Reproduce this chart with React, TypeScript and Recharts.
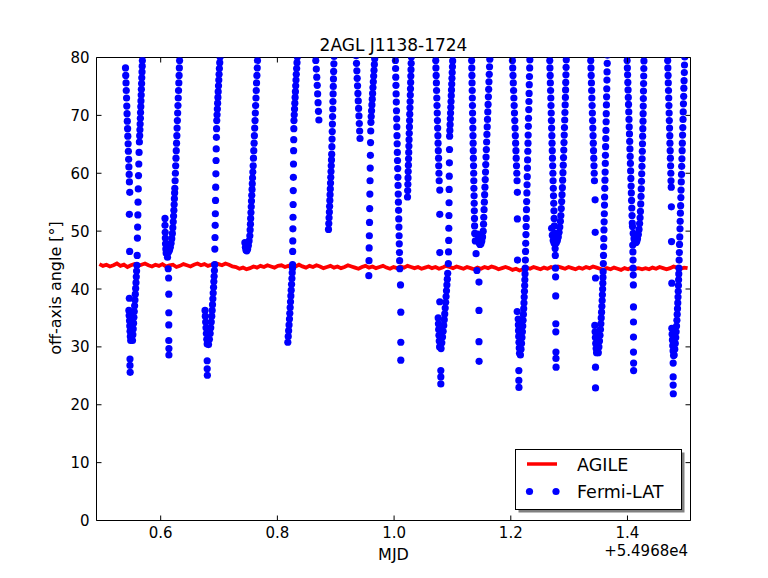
import React from 'react'
import { ComposedChart, Line, Scatter, XAxis, YAxis, ReferenceLine } from 'recharts'

type Pt = [number, number]

const X_DOMAIN: [number, number] = [0.49, 1.508]
const Y_DOMAIN: [number, number] = [0, 80]
const X_TICKS = [0.6, 0.8, 1.0, 1.2, 1.4]
const Y_TICKS = [0, 10, 20, 30, 40, 50, 60, 70, 80]

// AGILE off-axis angle, sampled on a regular time grid
const AGILE_START = 0.495
const AGILE_STEP = 0.006
const AGILE_ANGLE = [
  44.3, 44.0, 44.2, 43.9, 44.1, 44.4, 44.0, 44.2, 43.8, 44.1, 44.3, 44.0, 44.2,
  44.4, 44.1, 43.9, 44.2, 44.0, 44.3, 43.9, 44.1, 44.2, 43.8, 44.0, 44.3, 44.1,
  43.9, 44.2, 44.4, 44.1, 44.3, 44.0, 44.2, 44.5, 44.3, 44.1, 44.4, 44.2, 43.9,
  43.8, 43.5, 43.7, 43.4, 43.6, 43.9, 43.7, 44.0, 43.8, 44.1, 43.9, 43.7, 44.0,
  44.1, 43.8, 44.0, 43.7, 43.9, 44.2, 43.9, 43.7, 44.0, 43.8, 44.1, 43.9, 43.6,
  43.8, 44.0, 43.7, 43.9, 43.6, 43.8, 44.1, 43.9, 43.7, 43.5, 43.8, 44.0, 43.7,
  43.9, 43.6, 43.8, 44.0, 43.7, 43.5, 43.8, 43.6, 43.9, 43.7, 44.0, 43.8, 43.6,
  43.8, 43.5, 43.7, 43.9, 43.6, 43.8, 43.5, 43.7, 44.0, 43.8, 43.6, 43.9, 43.7,
  43.5, 43.8, 43.6, 43.4, 43.7, 43.5, 43.8, 43.6, 43.9, 43.7, 43.4, 43.6, 43.8,
  43.6, 43.3, 43.5, 43.2, 43.4, 43.7, 43.5, 43.8, 43.6, 43.4, 43.7, 43.5, 43.8,
  43.6, 43.9, 43.7, 43.5, 43.8, 43.6, 43.4, 43.7, 43.5, 43.8, 43.6, 43.9, 43.7,
  43.5, 43.3, 43.6, 43.4, 43.7, 43.5, 43.3, 43.6, 43.4, 43.7, 43.5, 43.6, 43.4,
  43.6, 43.4, 43.7, 43.5, 43.8, 43.6, 43.4, 43.6, 43.9, 43.7, 43.5, 43.7, 43.6,
]

// Fermi-LAT off-axis angle, one array per orbit [MJD - 54968, deg]
const ORBIT_01: Pt[] = [
  [0.4935, 80.7],
  [0.5397, 78.2], [0.5401, 76.9], [0.5406, 75.6], [0.541, 74.3], [0.5415, 73.0], [0.5419, 71.6], [0.5424, 70.3], [0.5428, 69.0],
  [0.5433, 67.7], [0.5437, 66.4], [0.5442, 65.1], [0.5446, 63.8], [0.5451, 62.4], [0.5455, 61.1], [0.546, 59.8], [0.5464, 58.5],
  [0.547, 56.7], [0.5463, 52.9], [0.5468, 46.5], [0.5463, 38.4],
  [0.5455, 36.3], [0.546, 35.4], [0.5466, 34.5], [0.547, 33.6], [0.5475, 32.7], [0.548, 31.8], [0.5486, 31.1],
  [0.5474, 27.9], [0.5474, 26.8], [0.5477, 25.6],
  [0.5517, 31.1], [0.5523, 32.1], [0.5529, 33.1], [0.5535, 34.1], [0.5541, 35.1], [0.5547, 36.1], [0.5553, 37.1], [0.5559, 38.1],
  [0.5565, 39.1], [0.5571, 40.1], [0.5577, 41.1], [0.5582, 42.1], [0.5587, 43.1], [0.5592, 44.1],
  [0.5597, 45.8], [0.5601, 48.8], [0.5605, 50.7], [0.5609, 52.8], [0.5612, 55.0], [0.5616, 57.3], [0.562, 59.6], [0.5625, 61.6],
  [0.563, 63.6], [0.5635, 65.4],
  [0.564, 66.5], [0.5644, 67.5], [0.5648, 68.5], [0.5652, 69.5], [0.5655, 70.5], [0.5659, 71.5], [0.5662, 72.5], [0.5666, 73.5],
  [0.5669, 74.5], [0.5673, 75.5], [0.5676, 76.5], [0.568, 77.5], [0.5683, 78.5], [0.5686, 79.5], [0.5689, 80.5],
]

const ORBIT_02: Pt[] = [
  [0.6074, 52.2], [0.6074, 51.0], [0.6077, 49.8], [0.608, 48.8], [0.6083, 47.8], [0.6088, 46.9], [0.6094, 46.2],
  [0.6117, 45.5], [0.6129, 43.5], [0.6136, 41.9], [0.6139, 39.1], [0.6139, 35.9], [0.6139, 33.8], [0.6139, 31.1], [0.6141, 29.7], [0.6141, 28.6],
  [0.6134, 46.4], [0.615, 46.7], [0.6165, 47.2], [0.6178, 47.9], [0.619, 48.7], [0.62, 49.6], [0.6208, 50.6], [0.6215, 51.6],
  [0.6221, 52.6], [0.6226, 53.6], [0.6231, 54.6], [0.6235, 55.6], [0.6239, 56.6], [0.6242, 57.4],
  [0.6247, 58.7], [0.6252, 60.0], [0.6257, 61.3], [0.6262, 62.6], [0.6267, 63.9], [0.6272, 65.2], [0.6277, 66.5], [0.6281, 67.8],
  [0.6286, 69.1], [0.6291, 70.4], [0.6296, 71.7], [0.6301, 73.0], [0.6306, 74.3], [0.6311, 75.6], [0.6316, 76.9], [0.632, 78.2],
  [0.6324, 79.5], [0.6328, 80.8],
]

const ORBIT_03: Pt[] = [
  [0.676, 36.3], [0.6765, 35.3], [0.6771, 34.3], [0.6777, 33.3], [0.6783, 32.3], [0.679, 31.3], [0.6797, 30.5],
  [0.6797, 27.6], [0.6797, 26.2], [0.68, 25.1],
  [0.682, 30.4], [0.6835, 31.3], [0.6848, 32.3], [0.6858, 33.3], [0.6867, 34.3], [0.6875, 35.3], [0.6882, 36.3], [0.6888, 37.3],
  [0.6894, 38.3], [0.69, 39.3], [0.6906, 40.3], [0.6911, 41.3], [0.6916, 42.2], [0.6921, 43.2],
  [0.6925, 44.2], [0.6928, 46.9], [0.6931, 48.9], [0.6934, 51.0], [0.6937, 53.0], [0.694, 55.3], [0.6943, 57.6], [0.6946, 59.9],
  [0.6949, 62.2], [0.6952, 64.2], [0.6955, 66.2], [0.6958, 67.7], [0.6961, 69.1],
  [0.6966, 70.1], [0.6971, 71.1], [0.6976, 72.1], [0.6981, 73.1], [0.6986, 74.1], [0.6991, 75.1], [0.6996, 76.1], [0.7001, 77.1],
  [0.7006, 78.1], [0.7012, 79.1], [0.7018, 80.1], [0.7024, 81.0],
]

const ORBIT_04: Pt[] = [
  [0.7443, 48.0], [0.7452, 47.2], [0.7463, 46.7], [0.7476, 46.6], [0.749, 46.9], [0.7503, 47.5], [0.7515, 48.3], [0.7528, 49.2],
  [0.7533, 50.2], [0.7538, 51.2], [0.7542, 52.2], [0.7547, 53.2], [0.7552, 54.2], [0.7556, 55.2], [0.7561, 56.2], [0.7566, 57.2],
  [0.757, 58.2], [0.7575, 59.2], [0.758, 60.2], [0.7585, 61.3],
  [0.759, 62.6], [0.7595, 63.9], [0.7601, 65.2], [0.7606, 66.5], [0.7611, 67.8], [0.7617, 69.1], [0.7622, 70.4], [0.7627, 71.7],
  [0.7633, 73.0], [0.7638, 74.3], [0.7643, 75.6], [0.7649, 76.9], [0.7654, 78.2], [0.7659, 79.5], [0.7664, 80.8],
]

const ORBIT_05: Pt[] = [
  [0.8179, 30.8], [0.8186, 31.8], [0.8193, 32.8], [0.82, 33.8], [0.8207, 34.8], [0.8213, 35.8], [0.8219, 36.8], [0.8225, 37.8],
  [0.8231, 38.8], [0.8237, 39.8], [0.8243, 40.8], [0.8249, 41.8], [0.8254, 42.8], [0.8259, 43.6],
  [0.826, 44.2], [0.8262, 46.5], [0.8264, 48.3], [0.8266, 50.4], [0.8268, 52.4], [0.827, 54.6], [0.8272, 57.0], [0.8274, 59.3],
  [0.8276, 61.6], [0.8278, 63.9], [0.828, 65.8], [0.8282, 67.7], [0.8284, 69.1],
  [0.8289, 70.1], [0.8294, 71.1], [0.8299, 72.1], [0.8304, 73.1], [0.8309, 74.1], [0.8314, 75.1], [0.8319, 76.1], [0.8324, 77.1],
  [0.833, 78.1], [0.8336, 79.1], [0.8342, 80.1], [0.8348, 81.0],
]

const ORBIT_06: Pt[] = [
  [0.8655, 80.9], [0.8658, 79.5], [0.8667, 78.0], [0.8675, 76.6], [0.8683, 75.2], [0.869, 73.7], [0.8697, 72.2], [0.8704, 70.7], [0.8711, 69.2],
  [0.8876, 50.3], [0.8881, 51.3], [0.8886, 52.3], [0.8891, 53.3], [0.8895, 54.3], [0.8899, 55.3], [0.8903, 56.3], [0.8907, 57.3],
  [0.8911, 58.3], [0.8915, 59.3], [0.8919, 60.3], [0.8923, 61.3], [0.8927, 62.3], [0.8931, 63.3],
  [0.8934, 64.6], [0.8937, 65.9], [0.894, 67.2], [0.8943, 68.5], [0.8946, 69.8], [0.8949, 71.1], [0.8952, 72.4], [0.8955, 73.7],
  [0.8958, 75.0], [0.8961, 76.3], [0.8964, 77.6], [0.8968, 78.9], [0.8972, 80.2],
]

const ORBIT_07: Pt[] = [
  [0.935, 80.3], [0.9356, 79.0], [0.9362, 77.7], [0.9368, 76.4], [0.9374, 75.1], [0.938, 73.8], [0.9386, 72.5], [0.9392, 71.2],
  [0.9398, 69.9], [0.9404, 68.6], [0.941, 67.3], [0.9416, 66.0],
  [0.9567, 42.3], [0.957, 44.9], [0.9573, 47.1], [0.9576, 49.2], [0.9579, 51.5], [0.9582, 53.9], [0.9585, 56.4], [0.9588, 58.7],
  [0.9591, 60.9], [0.9594, 63.1], [0.9597, 65.3], [0.96, 67.3], [0.9603, 68.8],
  [0.9608, 69.8], [0.9614, 70.8], [0.962, 71.8], [0.9626, 72.8], [0.9632, 73.8], [0.9638, 74.8], [0.9644, 75.8], [0.965, 76.8],
  [0.9656, 77.8], [0.9662, 78.8], [0.9668, 79.8], [0.9674, 80.8],
]

const ORBIT_08: Pt[] = [
  [1.002, 80.9], [1.0023, 79.5], [1.0026, 78.1], [1.0029, 76.6], [1.0032, 75.2], [1.0035, 73.7], [1.0038, 72.3], [1.0041, 70.8],
  [1.0044, 69.4], [1.0047, 68.0], [1.005, 66.5], [1.0053, 65.1], [1.0056, 63.6], [1.0059, 62.2], [1.0062, 60.8], [1.0065, 59.3],
  [1.0068, 57.9], [1.0071, 56.4], [1.0074, 55.0], [1.0077, 53.6], [1.008, 52.1], [1.0083, 50.7], [1.0086, 49.2], [1.0089, 47.8],
  [1.0092, 46.3], [1.0095, 44.9], [1.0098, 43.5],
  [1.011, 40.7], [1.0115, 36.0], [1.0115, 30.8], [1.0115, 27.7],
  [1.023, 55.9], [1.0233, 57.0], [1.0236, 58.1], [1.0239, 59.2], [1.0242, 60.3], [1.0245, 61.4], [1.0248, 62.5], [1.0251, 63.6],
  [1.0254, 64.7], [1.0257, 65.8], [1.026, 66.9], [1.0263, 68.0], [1.0266, 69.1], [1.0269, 70.2], [1.0272, 71.3], [1.0275, 72.4],
  [1.0278, 73.5], [1.0281, 74.6], [1.0284, 75.7], [1.0287, 76.8], [1.029, 77.9], [1.0293, 79.0], [1.0296, 80.1], [1.0299, 81.2],
]

const ORBIT_09: Pt[] = [
  [1.071, 80.8], [1.0714, 79.5], [1.0717, 78.2], [1.0721, 76.9], [1.0725, 75.6], [1.0728, 74.3], [1.0732, 73.0], [1.0736, 71.7],
  [1.074, 70.4], [1.0743, 69.1], [1.0747, 67.8], [1.0751, 66.5], [1.0754, 65.2], [1.0758, 63.9], [1.0762, 62.6], [1.0765, 61.3],
  [1.0769, 60.0], [1.0773, 58.7],
  [1.0783, 57.1], [1.0783, 52.9], [1.0783, 46.3], [1.0783, 37.8],
  [1.0756, 35.0], [1.076, 34.0], [1.0764, 33.0], [1.0769, 32.0], [1.0774, 31.0], [1.078, 30.0],
  [1.0801, 25.9], [1.0801, 24.8], [1.0801, 23.6],
  [1.0805, 29.7], [1.0818, 30.7], [1.083, 31.7], [1.0841, 32.7], [1.0851, 33.7], [1.086, 34.7], [1.0868, 35.7], [1.0876, 36.7],
  [1.0884, 37.7], [1.0891, 38.7], [1.0898, 39.7], [1.0905, 40.7], [1.0912, 41.7], [1.0919, 42.7],
  [1.093, 44.4], [1.0933, 46.4], [1.0936, 48.4], [1.0938, 50.5], [1.094, 52.7], [1.0942, 54.9], [1.0944, 57.2], [1.0946, 59.5],
  [1.0948, 61.8], [1.095, 64.1], [1.0952, 66.4],
  [1.0956, 67.4], [1.096, 68.4], [1.0964, 69.4], [1.0968, 70.4], [1.0972, 71.4], [1.0976, 72.4], [1.098, 73.4], [1.0984, 74.4],
  [1.0988, 75.4], [1.0992, 76.4], [1.0996, 77.4], [1.1, 78.4], [1.1004, 79.4], [1.1008, 80.4], [1.1012, 81.4],
]

const ORBIT_10: Pt[] = [
  [1.1327, 80.8], [1.1329, 79.5], [1.1332, 78.2], [1.1334, 76.9], [1.1336, 75.6], [1.1339, 74.3], [1.1341, 73.0], [1.1343, 71.7],
  [1.1345, 70.4], [1.1348, 69.1], [1.135, 67.8], [1.1352, 66.5], [1.1355, 65.2], [1.1357, 63.9], [1.1359, 62.6], [1.1362, 61.3],
  [1.1364, 60.0], [1.1366, 58.7], [1.1368, 57.4], [1.1371, 56.1], [1.1373, 54.8], [1.1375, 53.5], [1.1378, 52.2], [1.138, 50.9],
  [1.1382, 49.6], [1.1392, 48.3], [1.1405, 46.1], [1.142, 43.2],
  [1.1455, 41.2], [1.1455, 36.3], [1.1455, 30.9], [1.1457, 27.5],
  [1.143, 49.5], [1.1442, 48.6], [1.1456, 48.0], [1.1472, 47.7], [1.1488, 47.8], [1.1503, 48.3], [1.1516, 49.0], [1.1527, 50.0],
  [1.1533, 51.2], [1.1537, 52.4],
  [1.1542, 53.7], [1.1547, 55.0], [1.1552, 56.3], [1.1557, 57.6], [1.1562, 58.9], [1.1567, 60.2], [1.1571, 61.5], [1.1576, 62.8],
  [1.1581, 64.1], [1.1586, 65.4], [1.1591, 66.7], [1.1596, 68.0], [1.1601, 69.3], [1.1606, 70.6], [1.1611, 71.9], [1.1616, 73.2],
  [1.1621, 74.5], [1.1626, 75.8], [1.1631, 77.1], [1.1636, 78.4], [1.1641, 79.7], [1.1646, 81.0],
]

const ORBIT_11: Pt[] = [
  [1.2023, 80.8], [1.2028, 79.5], [1.2033, 78.2], [1.2038, 76.9], [1.2043, 75.6], [1.2048, 74.3], [1.2053, 73.0], [1.2058, 71.7],
  [1.2063, 70.4], [1.2068, 69.1], [1.2073, 67.8], [1.2078, 66.5], [1.2083, 65.2], [1.2088, 63.9], [1.2093, 62.6], [1.2098, 61.3],
  [1.2103, 60.0], [1.2108, 58.7],
  [1.2113, 56.7], [1.2113, 52.1], [1.2115, 45.0], [1.211, 36.1],
  [1.2127, 34.8], [1.213, 33.8], [1.2133, 32.8], [1.2136, 31.8], [1.214, 30.8], [1.2145, 29.8], [1.215, 28.9],
  [1.2138, 25.9], [1.2138, 24.2], [1.214, 23.0],
  [1.2165, 28.6], [1.2175, 29.6], [1.2184, 30.6], [1.2192, 31.6], [1.2199, 32.6], [1.2205, 33.6], [1.2211, 34.6], [1.2216, 35.6],
  [1.2221, 36.6], [1.2226, 37.6], [1.223, 38.6], [1.2234, 39.6], [1.2238, 40.6], [1.2241, 41.6], [1.2244, 42.6], [1.2247, 43.6],
  [1.225, 45.0], [1.2253, 46.5], [1.2256, 47.9], [1.226, 49.4], [1.2263, 50.8], [1.2266, 52.2], [1.2269, 53.7], [1.2272, 55.1],
  [1.2276, 56.6], [1.2279, 58.0], [1.2282, 59.4], [1.2285, 60.9], [1.2288, 62.3], [1.2292, 63.8], [1.2295, 65.2], [1.2298, 66.6],
  [1.2301, 68.1], [1.2304, 69.5], [1.2308, 71.0], [1.2311, 72.4], [1.2314, 73.8], [1.2317, 75.3], [1.232, 76.7], [1.2324, 78.2],
  [1.2327, 79.6], [1.233, 81.0],
]

const ORBIT_12: Pt[] = [
  [1.2664, 80.8], [1.2668, 79.5], [1.2671, 78.2], [1.2675, 76.9], [1.2678, 75.6], [1.2682, 74.3], [1.2686, 73.0], [1.2689, 71.7],
  [1.2693, 70.4], [1.2696, 69.1], [1.27, 67.8], [1.2704, 66.5], [1.2707, 65.2], [1.2711, 63.9], [1.2714, 62.6], [1.2718, 61.3],
  [1.2722, 60.0], [1.2725, 58.7], [1.2729, 57.4], [1.2732, 56.1], [1.2736, 54.8], [1.274, 53.5], [1.2743, 52.2], [1.2747, 50.9],
  [1.275, 49.6], [1.2754, 48.3],
  [1.276, 47.0], [1.2763, 45.8], [1.2766, 43.6], [1.2768, 42.1], [1.277, 38.8], [1.2772, 34.0], [1.2772, 32.6], [1.2774, 29.1],
  [1.2774, 28.0], [1.2776, 26.5],
  [1.27, 50.5], [1.2712, 49.3], [1.2727, 48.4], [1.2744, 47.9], [1.2762, 47.8], [1.278, 48.0], [1.2798, 48.4], [1.2814, 49.0],
  [1.2828, 49.8], [1.284, 50.7], [1.285, 51.7], [1.2858, 52.7],
  [1.2865, 53.9], [1.2872, 55.1], [1.2878, 56.3], [1.2884, 57.5], [1.2889, 58.8], [1.2894, 60.1], [1.2899, 61.4], [1.2904, 62.7],
  [1.2908, 64.0], [1.2912, 65.3], [1.2916, 66.6], [1.292, 67.9], [1.2924, 69.2], [1.2928, 70.5], [1.2932, 71.8], [1.2936, 73.1],
  [1.2939, 74.4], [1.2942, 75.7], [1.2945, 77.0], [1.2948, 78.3], [1.2951, 79.6], [1.2954, 80.9],
]

const ORBIT_13: Pt[] = [
  [1.3366, 80.8], [1.337, 79.5], [1.3374, 78.2], [1.3378, 76.9], [1.3382, 75.6], [1.3386, 74.3], [1.339, 73.0], [1.3394, 71.7],
  [1.3398, 70.4], [1.3402, 69.1], [1.3406, 67.8], [1.341, 66.5], [1.3414, 65.2], [1.3418, 63.9], [1.3422, 62.6], [1.3426, 61.3],
  [1.343, 60.0], [1.3434, 58.7],
  [1.3445, 55.4], [1.3447, 49.8], [1.3452, 41.9],
  [1.344, 33.7], [1.3445, 32.6], [1.345, 31.6], [1.3456, 30.6], [1.3463, 29.7], [1.347, 29.0],
  [1.3452, 26.5], [1.3452, 22.9],
  [1.35, 29.0], [1.351, 30.0], [1.352, 31.0], [1.3529, 32.0], [1.3537, 33.0], [1.3544, 34.0], [1.355, 35.0], [1.3556, 36.0],
  [1.3561, 37.0], [1.3566, 38.0], [1.357, 39.0], [1.3574, 40.0], [1.3577, 41.0], [1.358, 42.0], [1.3583, 43.0],
  [1.3586, 44.4], [1.3589, 45.8], [1.3592, 47.3], [1.3594, 48.7], [1.3597, 50.2], [1.36, 51.6], [1.3603, 53.0], [1.3606, 54.5],
  [1.3608, 55.9], [1.3611, 57.4], [1.3614, 58.8], [1.3617, 60.2], [1.362, 61.7], [1.3622, 63.1], [1.3625, 64.6], [1.3628, 66.0],
  [1.3631, 67.4], [1.3634, 68.9], [1.3636, 70.3], [1.3639, 71.8], [1.3642, 73.2], [1.3645, 74.6], [1.3648, 76.1], [1.365, 77.5],
  [1.3653, 79.0], [1.3656, 80.4],
]

const ORBIT_14: Pt[] = [
  [1.399, 80.8], [1.3994, 79.5], [1.3998, 78.2], [1.4002, 77.0], [1.4006, 75.7], [1.401, 74.4], [1.4014, 73.1], [1.4018, 71.9],
  [1.4022, 70.6], [1.4026, 69.3], [1.403, 68.0], [1.4034, 66.8], [1.4038, 65.5], [1.4042, 64.2], [1.4046, 62.9], [1.405, 61.7],
  [1.4054, 60.4], [1.4058, 59.1], [1.4062, 57.8], [1.4066, 56.6], [1.407, 55.3], [1.4074, 54.0], [1.4078, 52.7], [1.4082, 51.4],
  [1.409, 47.6], [1.4093, 46.4], [1.4095, 45.0], [1.4097, 43.6], [1.4099, 42.4], [1.4101, 40.7], [1.4103, 36.9], [1.4103, 34.3],
  [1.4103, 31.7], [1.4103, 29.1], [1.4105, 27.2], [1.4105, 25.9],
  [1.4086, 50.8], [1.4098, 49.6], [1.4112, 48.7], [1.4127, 48.2], [1.4143, 48.0], [1.4158, 48.2], [1.4172, 48.7], [1.4186, 49.4],
  [1.4198, 50.3], [1.4208, 51.3], [1.4216, 52.3], [1.4222, 53.4],
  [1.4227, 54.7], [1.4232, 56.0], [1.4236, 57.3], [1.424, 58.6], [1.4244, 59.9], [1.4248, 61.2], [1.4251, 62.5], [1.4254, 63.8],
  [1.4257, 65.1], [1.426, 66.4], [1.4263, 67.7], [1.4266, 69.0], [1.4268, 70.3], [1.427, 71.6], [1.4272, 72.9], [1.4274, 74.2],
  [1.4276, 75.5], [1.4278, 76.8], [1.428, 78.1], [1.4282, 79.4], [1.4284, 80.7],
]

const ORBIT_15: Pt[] = [
  [1.4685, 80.8], [1.4689, 79.5], [1.4692, 78.2], [1.4696, 76.9], [1.4699, 75.6], [1.4703, 74.3], [1.4707, 73.0], [1.471, 71.7],
  [1.4714, 70.4], [1.4717, 69.1], [1.4721, 67.8], [1.4725, 66.5], [1.4728, 65.2], [1.4732, 63.9], [1.4735, 62.6], [1.4739, 61.3],
  [1.4743, 60.0], [1.4746, 58.7], [1.475, 57.6],
  [1.4752, 54.2], [1.4755, 48.2], [1.476, 41.0],
  [1.476, 33.2], [1.4765, 32.2], [1.477, 31.2], [1.4776, 30.2], [1.4782, 29.3], [1.479, 28.5],
  [1.4783, 27.2], [1.4783, 24.8], [1.4783, 23.4], [1.4785, 21.9],
  [1.48, 28.6], [1.481, 29.6], [1.4819, 30.6], [1.4827, 31.6], [1.4834, 32.6], [1.4841, 33.6], [1.4847, 34.6], [1.4852, 35.6],
  [1.4857, 36.6], [1.4862, 37.6], [1.4866, 38.6], [1.487, 39.6], [1.4873, 40.6], [1.4876, 41.6], [1.4879, 42.6], [1.4882, 43.6],
  [1.4885, 45.0], [1.4889, 46.3], [1.4892, 47.7], [1.4896, 49.0], [1.49, 50.4], [1.4903, 51.7], [1.4907, 53.1], [1.4911, 54.4],
  [1.4915, 55.8], [1.4918, 57.1], [1.4922, 58.5], [1.4926, 59.8], [1.4929, 61.2], [1.4933, 62.5], [1.4937, 63.9], [1.494, 65.2],
  [1.4944, 66.6], [1.4948, 67.9], [1.4952, 69.3], [1.4955, 70.6], [1.4959, 72.0], [1.4963, 73.3], [1.4966, 74.7], [1.497, 76.0],
  [1.4974, 77.4], [1.4977, 78.7], [1.4981, 80.1], [1.4985, 81.4],
]

const ORBITS = [
  ORBIT_01, ORBIT_02, ORBIT_03, ORBIT_04, ORBIT_05, ORBIT_06, ORBIT_07, ORBIT_08,
  ORBIT_09, ORBIT_10, ORBIT_11, ORBIT_12, ORBIT_13, ORBIT_14, ORBIT_15,
]

const agileData = AGILE_ANGLE.map((y, i) => ({ x: AGILE_START + i * AGILE_STEP, y }))
const fermiData = ORBITS.flat().map(([x, y]) => ({ x, y }))

const W = 768
const H = 578
const LEFT = 96.5
const RIGHT = 690.5
const TOP = 57.5
const BOTTOM = 520.5
const TICK = 5
const FONT = '"DejaVu Sans", sans-serif'

const XTick = ({ x, payload }: any) => (
  <g>
    <line x1={x} x2={x} y1={BOTTOM} y2={BOTTOM - TICK} stroke="#000" />
    <line x1={x} x2={x} y1={TOP} y2={TOP + TICK} stroke="#000" />
    <text x={x} y={BOTTOM + 17} textAnchor="middle" fontSize={15} fontFamily={FONT} fill="#000">
      {Number(payload.value).toFixed(1)}
    </text>
  </g>
)

const YTick = ({ y, payload }: any) => (
  <g>
    <line x1={LEFT} x2={LEFT + TICK} y1={y} y2={y} stroke="#000" />
    <line x1={RIGHT - TICK} x2={RIGHT} y1={y} y2={y} stroke="#000" />
    <text x={LEFT - 7} y={y + 5.5} textAnchor="end" fontSize={15} fontFamily={FONT} fill="#000">
      {payload.value}
    </text>
  </g>
)

const Dot = (p: any) => <circle cx={p.cx} cy={p.cy} r={3.6} fill="#0000ff" />

export default function App() {
  return (
    <div style={{ position: 'absolute', left: 0, top: 0, width: W, height: H, background: '#fff' }}>
      <ComposedChart
        width={W}
        height={H}
        margin={{ top: TOP, right: W - RIGHT, bottom: 0, left: 0 }}
      >
        <XAxis
          type="number"
          dataKey="x"
          domain={X_DOMAIN}
          ticks={X_TICKS}
          allowDataOverflow
          height={H - BOTTOM}
          axisLine={{ stroke: '#000' }}
          tickLine={false}
          tick={XTick}
          interval={0}
        />
        <YAxis
          type="number"
          dataKey="y"
          domain={Y_DOMAIN}
          ticks={Y_TICKS}
          allowDataOverflow
          width={LEFT}
          axisLine={{ stroke: '#000' }}
          tickLine={false}
          tick={YTick}
          interval={0}
        />
        <ReferenceLine y={80} stroke="#000" />
        <ReferenceLine x={X_DOMAIN[1]} stroke="#000" />
        <Line
          data={agileData}
          dataKey="y"
          type="linear"
          stroke="#ff0000"
          strokeWidth={3.8}
          dot={false}
          isAnimationActive={false}
        />
        <Scatter data={fermiData} dataKey="y" shape={Dot} isAnimationActive={false} />
      </ComposedChart>

      <svg
        width={W}
        height={H}
        style={{ position: 'absolute', left: 0, top: 0, pointerEvents: 'none' }}
        fontFamily={FONT}
      >
        <text x={393.5} y={51} textAnchor="middle" fontSize={17}>2AGL J1138-1724</text>
        <text x={393.5} y={560} textAnchor="middle" fontSize={16}>MJD</text>
        <text x={688} y={556} textAnchor="end" fontSize={15}>+5.4968e4</text>
        <text transform="translate(61, 288) rotate(-90)" textAnchor="middle" fontSize={16}>
          off-axis angle [°]
        </text>

        <rect x={518.5} y={452.5} width={166} height={60} fill="#808080" />
        <rect x={515.5} y={449.5} width={166} height={60} fill="#fff" stroke="#000" />
        <line x1={527} x2={557} y1={464} y2={464} stroke="#ff0000" strokeWidth={3.5} />
        <text x={577} y={470.5} fontSize={17.5}>AGILE</text>
        <circle cx={529.5} cy={491.5} r={3.6} fill="#0000ff" />
        <circle cx={556} cy={491.5} r={3.6} fill="#0000ff" />
        <text x={577} y={498} fontSize={17.5}>Fermi-LAT</text>
      </svg>
    </div>
  )
}
